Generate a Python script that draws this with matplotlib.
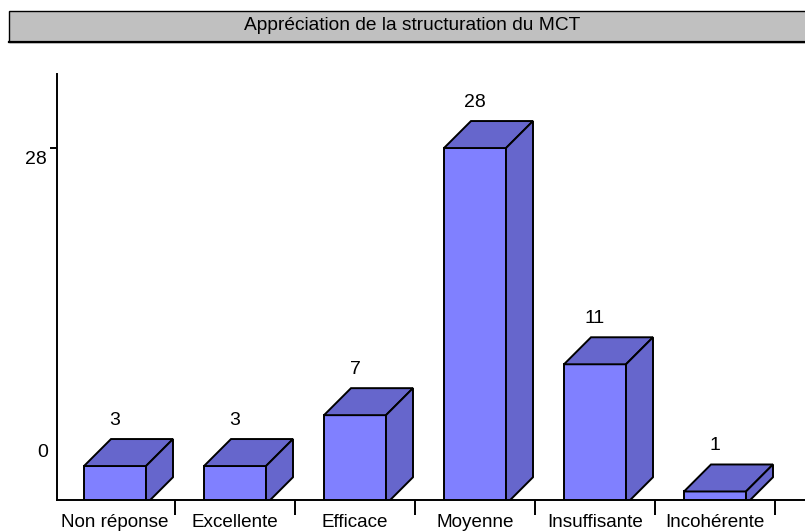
import numpy as np
import matplotlib
matplotlib.use('Agg')
import matplotlib.pyplot as plt
from matplotlib.patches import Polygon, Rectangle
from matplotlib.lines import Line2D

plt.rcParams['font.family'] = ['Liberation Sans', 'DejaVu Sans']

categories = ['Non réponse', 'Excellente', 'Efficace', 'Moyenne', 'Insuffisante', 'Incohérente']
counts = [3, 3, 7, 28, 11, 1]
title = 'Appréciation de la structuration du MCT'

W, H = 805, 531
fig = plt.figure(figsize=(W / 100, H / 100), dpi=100)

# title bar
fig.patches.append(Rectangle((9 / W, 489 / H), 810 / W, 31 / H, transform=fig.transFigure,
                             facecolor='#c0c0c0', edgecolor='black', lw=1))
fig.lines.append(Line2D([9 / W, 1], [489.5 / H, 489.5 / H], transform=fig.transFigure,
                        color='black', lw=1.6))
fig.text(412 / W, 505 / H, title, ha='center', va='center', fontsize=13.8)

ax = fig.add_axes([57 / W, 31 / H, 748 / W, 426 / H])
x = np.arange(len(categories))
pxu = 12.72  # pixels per unit
y0 = 4.2 / pxu
ax.set_xlim(-0.4833, 5.75)
ax.set_ylim(y0, y0 + 426 / pxu)

bw = 62 / 120
dx = 27 / 120
dy = 27 / pxu
front = '#8080ff'
shade = '#6666cc'
lw = 1.4

ax.bar(x, counts, width=bw, color=front, edgecolor='black', linewidth=lw, zorder=3)
for xi, v in zip(x, counts):
    left, right = xi - bw / 2, xi + bw / 2
    top = Polygon([(left, v), (left + dx, v + dy), (right + dx, v + dy), (right, v)],
                  closed=True, facecolor=shade, edgecolor='black', lw=lw, zorder=3,
                  joinstyle='miter')
    side = Polygon([(right, 0), (right, v), (right + dx, v + dy), (right + dx, dy)],
                   closed=True, facecolor=shade, edgecolor='black', lw=lw, zorder=3,
                   joinstyle='miter')
    ax.add_patch(top)
    ax.add_patch(side)
    ax.annotate(str(v), (xi, v), xytext=(0, 46), textcoords='offset pixels',
                ha='center', va='center', fontsize=14)

for s in ['top', 'right']:
    ax.spines[s].set_visible(False)
for s in ['left', 'bottom']:
    ax.spines[s].set_linewidth(lw)
    ax.spines[s].set_zorder(4)

ax.set_xticks(x, categories, fontsize=13.6)
ax.set_xticks(x + 0.5, minor=True)
ax.tick_params(axis='x', which='major', length=0, pad=10)
ax.tick_params(axis='x', which='minor', length=11, width=lw)

ax.set_yticks([28], [''])
ax.tick_params(axis='y', length=5, width=lw)
ax.annotate('28', (0, 28), xycoords=('axes fraction', 'data'), xytext=(-10, -11),
            textcoords='offset pixels', ha='right', va='center', fontsize=14)
ax.annotate('0', (0, 0), xycoords=('axes fraction', 'data'), xytext=(-9, 52),
            textcoords='offset pixels', ha='right', va='center', fontsize=14)

fig.savefig('out.png', dpi=100)
